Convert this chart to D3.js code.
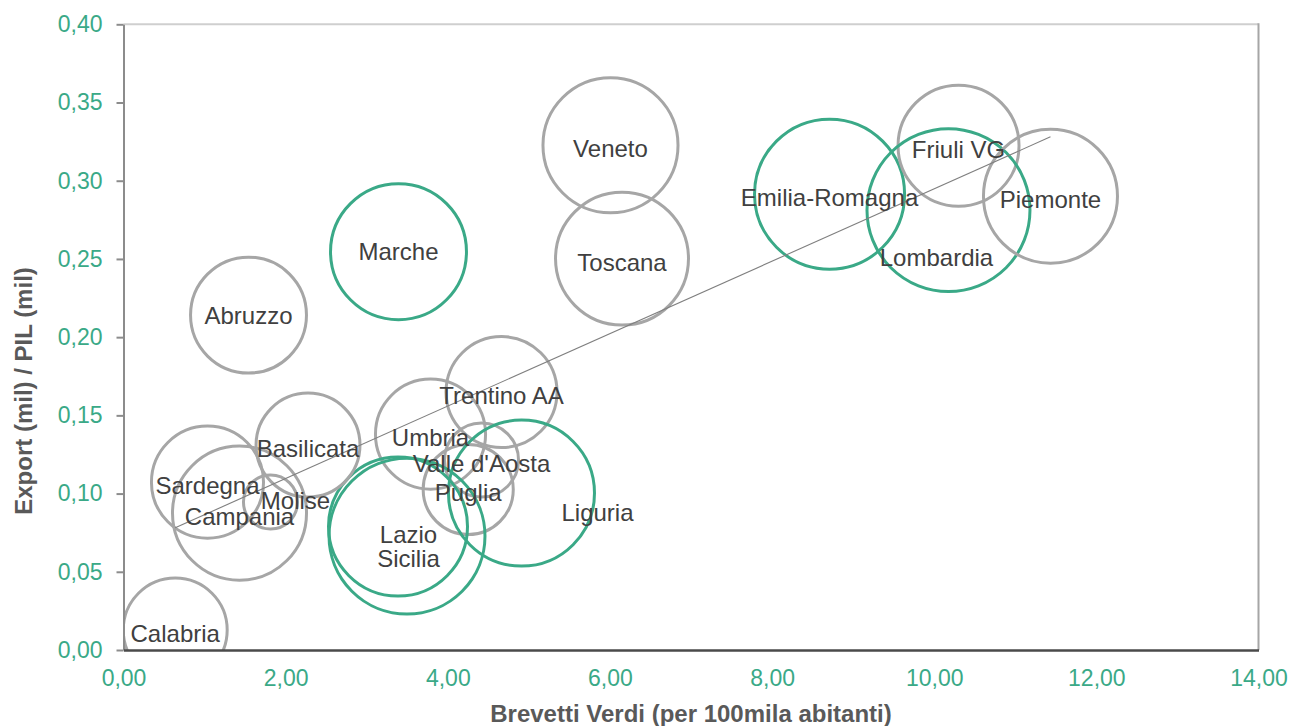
<!DOCTYPE html>
<html>
<head>
<meta charset="utf-8">
<script src="https://cdn.jsdelivr.net/npm/d3@7"></script>
<style>
  html, body { margin: 0; padding: 0; background: #ffffff; }
  svg { display: block; font-family: "Liberation Sans", Arial, sans-serif; }
</style>
</head>
<body>
<svg id="chart" width="1291" height="726"></svg>
<script>
// ---- Data ----
const regioni = ["Calabria","Abruzzo","Marche","Veneto","Toscana","Emilia-Romagna","Friuli VG","Lombardia","Piemonte","Trentino AA","Umbria","Valle d'Aosta","Puglia","Lazio","Sicilia","Liguria","Basilicata","Sardegna","Campania","Molise"];
const brevettiVerdi = [0.638,1.542,3.392,6.007,6.149,8.709,10.300,10.176,11.434,4.663,3.787,4.416,4.252,3.386,3.497,4.909,2.276,1.036,1.431,1.813];
const exportPil = [0.0128,0.2141,0.2546,0.3227,0.2502,0.2914,0.3224,0.2812,0.2901,0.1649,0.1380,0.1214,0.1026,0.0789,0.0728,0.1003,0.1310,0.1073,0.0875,0.0946];
const dimensione = [27.0,33.6,46.2,45.6,44.2,56.3,36.6,66.4,44.9,30.8,30.3,13.7,20.3,48.3,60.8,53.3,27.0,31.4,44.9,7.3];
const evidenziate = ["Marche","Emilia-Romagna","Lombardia","Lazio","Sicilia","Liguria"];
const xTicks = [0,2,4,6,8,10,12,14];
const yTicks = [0,0.05,0.10,0.15,0.20,0.25,0.30,0.35,0.40];
const xTitle = "Brevetti Verdi (per 100mila abitanti)";
const yTitle = "Export (mil) / PIL (mil)";

// label nudges (layout only)
const labelNudge = {"Lombardia":[-12,47],"Liguria":[76,19],"Molise":[25,-1],"Lazio":[10.5,8],"Sicilia":[1.5,22],"Marche":[0,0],"Abruzzo":[0,1]};
const defaultNudge = [0,3.5];

// ---- Layout ----
const L = 123.5, R = 1258.5, T = 24.3, B = 650;
const GREEN = "#3aa987", GRAY = "#a6a6a6";

const svg = d3.select("#chart");
const x = d3.scaleLinear().domain([0,14]).range([L,R]);
const y = d3.scaleLinear().domain([0,0.40]).range([B,T]);
const r = d3.scaleSqrt().domain([0,100]).range([0,100]);
const fmt = d => d3.format(".2f")(d).replace(".", ",");

const data = regioni.map((n,i) => ({name:n, x:brevettiVerdi[i], y:exportPil[i], s:dimensione[i], green: evidenziate.includes(n)}));

// clip
svg.append("defs").append("clipPath").attr("id","plotclip")
  .append("rect").attr("x",L).attr("y",T).attr("width",R-L).attr("height",B-T);

// plot border (top and right)
svg.append("line").attr("x1",L).attr("x2",R).attr("y1",T).attr("y2",T)
  .attr("stroke","#cfcfcf").attr("stroke-width",2);
svg.append("line").attr("x1",R).attr("x2",R).attr("y1",T-1).attr("y2",B)
  .attr("stroke","#a6a6a6").attr("stroke-width",2);

// bubbles
const g = svg.append("g").attr("clip-path","url(#plotclip)");
g.selectAll("circle").data(data).enter().append("circle")
  .attr("cx", d => x(d.x)).attr("cy", d => y(d.y)).attr("r", d => r(d.s))
  .attr("fill","none")
  .attr("stroke", d => d.green ? GREEN : GRAY)
  .attr("stroke-width", 3);

// trend line (linear least squares)
const mx = d3.mean(brevettiVerdi), my = d3.mean(exportPil);
const sxy = d3.sum(brevettiVerdi.map((v,i) => (v-mx)*(exportPil[i]-my)));
const sxx = d3.sum(brevettiVerdi.map(v => (v-mx)*(v-mx)));
const slope = sxy/sxx, intercept = my - slope*mx;
const [x0,x1] = d3.extent(brevettiVerdi);
svg.append("line")
  .attr("x1", x(x0)).attr("y1", y(intercept+slope*x0))
  .attr("x2", x(x1)).attr("y2", y(intercept+slope*x1))
  .attr("stroke","#7f7f7f").attr("stroke-width",1.1);

// labels
svg.append("g").selectAll("text").data(data).enter().append("text")
  .attr("x", d => x(d.x) + (labelNudge[d.name]||defaultNudge)[0])
  .attr("y", d => y(d.y) + (labelNudge[d.name]||defaultNudge)[1])
  .attr("dy","0.35em")
  .attr("text-anchor","middle")
  .attr("font-size","24px")
  .attr("fill","#404040")
  .text(d => d.name);

// y axis
const yAxis = svg.append("g").attr("transform",`translate(${L},0)`)
  .call(d3.axisLeft(y).tickValues(yTicks).tickFormat(fmt).tickSize(7).tickSizeOuter(0).tickPadding(14));
yAxis.select(".domain").attr("stroke","#8c8c8c").attr("stroke-width",2);
yAxis.selectAll(".tick line").attr("stroke","#8c8c8c").attr("stroke-width",2);
yAxis.selectAll(".tick text").attr("fill",GREEN).attr("font-size","23px")
  .attr("font-family","'Liberation Sans', Arial, sans-serif");

// x axis
const xAxis = svg.append("g").attr("transform",`translate(0,${B})`)
  .call(d3.axisBottom(x).tickValues(xTicks).tickFormat(fmt).tickSize(0).tickSizeOuter(0).tickPadding(20));
xAxis.select(".domain").attr("stroke","#4a4a4a").attr("stroke-width",2.5);
xAxis.selectAll(".tick text").attr("fill",GREEN).attr("font-size","23px")
  .attr("font-family","'Liberation Sans', Arial, sans-serif");

// axis titles
svg.append("text")
  .attr("x",(L+R)/2).attr("y",721.5)
  .attr("text-anchor","middle").attr("font-weight","bold").attr("font-size","24px")
  .attr("fill","#595959").text(xTitle);
svg.append("text")
  .attr("transform","translate(32,391) rotate(-90)")
  .attr("text-anchor","middle").attr("font-weight","bold").attr("font-size","24px")
  .attr("fill","#595959").text(yTitle);
</script>
</body>
</html>
